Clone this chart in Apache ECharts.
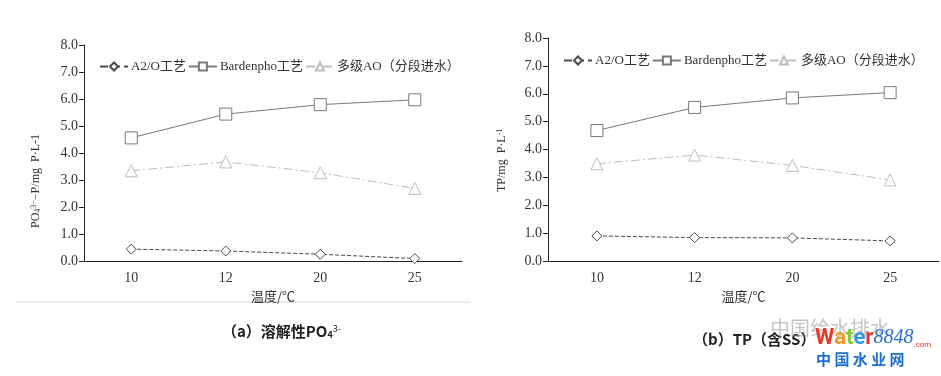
<!DOCTYPE html>
<html>
<head>
<meta charset="utf-8">
<script src="https://cdn.jsdelivr.net/npm/echarts@6/dist/echarts.min.js"></script>
<style>
  html, body { margin: 0; padding: 0; background: #fff; }
  #main { width: 941px; height: 376px; }
</style>
</head>
<body>
<div id="main"></div>
<script>
// temperatures (x categories)
var temps = ['10', '12', '20', '25'];
var seriesNames = ['A2/O工艺', 'Bardenpho工艺', '多级AO（分段进水）'];

// (a) dissolved PO4 3- -P, mg P/L
var poA2O = [0.44, 0.37, 0.25, 0.09];
var poBarden = [4.56, 5.44, 5.79, 5.97];
var poMultiAO = [3.34, 3.67, 3.27, 2.69];

// (b) TP, mg P/L
var tpA2O = [0.90, 0.84, 0.83, 0.72];
var tpBarden = [4.68, 5.51, 5.85, 6.04];
var tpMultiAO = [3.49, 3.80, 3.43, 2.91];

var yTicks = ['0.0', '1.0', '2.0', '3.0', '4.0', '5.0', '6.0', '7.0', '8.0'];

var serif = '"Liberation Serif", "Noto Sans CJK SC", serif';
var cjk = '"Noto Sans CJK SC", "Liberation Serif", serif';

var styles = [
  { color: '#4a4a4a', type: 'dashed', symbol: 'diamond', size: 10 },
  { color: '#7a7a7a', type: 'solid', symbol: 'rect', size: 12 },
  { color: '#bdbdbd', type: [9, 3, 2, 3], symbol: 'triangle', size: 12 }
];

function makeSeries(data, idx, gridIdx) {
  var s = styles[idx];
  return {
    name: seriesNames[idx],
    type: 'line',
    xAxisIndex: gridIdx,
    yAxisIndex: gridIdx,
    data: data,
    symbol: s.symbol,
    symbolSize: s.size,
    showAllSymbol: true,
    lineStyle: { color: s.color, width: 1, type: s.type },
    itemStyle: { color: '#fff', borderColor: s.color, borderWidth: 1 },
    emphasis: { disabled: true },
    animation: false
  };
}

function xAxisFor(gridIdx) {
  return {
    type: 'category',
    gridIndex: gridIdx,
    data: temps,
    boundaryGap: true,
    name: '温度/℃',
    nameLocation: 'middle',
    nameGap: 20,
    nameTextStyle: { fontFamily: cjk, fontSize: 13, color: '#333' },
    axisLine: { lineStyle: { color: '#222', width: 1 } },
    axisTick: { show: false },
    axisLabel: { fontFamily: serif, fontSize: 14, color: '#333', margin: 10 }
  };
}

function yAxisFor(gridIdx) {
  return {
    type: 'value',
    gridIndex: gridIdx,
    min: 0,
    max: 8,
    interval: 1,
    splitLine: { show: false },
    axisLine: { show: true, lineStyle: { color: '#222', width: 1 } },
    axisTick: { show: true, length: 5, lineStyle: { color: '#222' } },
    axisLabel: {
      fontFamily: serif, fontSize: 14, color: '#333', margin: 6,
      formatter: function (v) { return yTicks[Math.round(v)]; }
    }
  };
}

function legendFor(left, top) {
  return {
    left: left,
    top: top,
    width: 420,
    data: seriesNames,
    itemWidth: 28,
    itemHeight: 10,
    itemGap: 2,
    selectedMode: false,
    textStyle: { fontFamily: serif, fontSize: 13, color: '#333', padding: [0, 0, 0, -2] }
  };
}

var chart = echarts.init(document.getElementById('main'));
chart.setOption({
  backgroundColor: '#fff',
  animation: false,
  grid: [
    { left: 84, top: 45, width: 378, height: 216 },
    { left: 548, top: 38, width: 391, height: 223 }
  ],
  legend: [legendFor(94, 55), legendFor(558, 49)],
  xAxis: [xAxisFor(0), xAxisFor(1)],
  yAxis: [yAxisFor(0), yAxisFor(1)],
  series: [
    makeSeries(poA2O, 0, 0),
    makeSeries(poBarden, 1, 0),
    makeSeries(poMultiAO, 2, 0),
    makeSeries(tpA2O, 0, 1),
    makeSeries(tpBarden, 1, 1),
    makeSeries(tpMultiAO, 2, 1)
  ],
  graphic: [
    {
      type: 'text', x: 30, y: 228, rotation: Math.PI / 2,
      style: {
        text: 'PO{sub|4}{sup|3−}−P/mg  P·L-1',
        fontFamily: serif, fontSize: 12, fill: '#333',
        rich: {
          sub: { fontSize: 8, verticalAlign: 'bottom', fontFamily: serif },
          sup: { fontSize: 8, verticalAlign: 'top', fontFamily: serif }
        }
      }
    },
    {
      type: 'text', x: 496, y: 192, rotation: Math.PI / 2,
      style: {
        text: 'TP/mg  P·L{sup|-1}',
        fontFamily: serif, fontSize: 12, fill: '#333',
        rich: { sup: { fontSize: 8, verticalAlign: 'top', fontFamily: serif } }
      }
    },
    {
      type: 'line', shape: { x1: 16, y1: 302, x2: 470, y2: 302 },
      style: { stroke: '#ececec', lineWidth: 2 }
    },
    {
      type: 'text', x: 222, y: 324,
      style: {
        text: '（a）溶解性PO{sub|4}{sup|3-}',
        fontFamily: cjk, fontSize: 15, fontWeight: 'bold', fill: '#222',
        rich: {
          sub: { fontSize: 9, fontWeight: 'bold', verticalAlign: 'bottom', fontFamily: cjk, fill: '#222' },
          sup: { fontSize: 9, verticalAlign: 'top', fontFamily: cjk, fill: '#222' }
        }
      }
    },
    {
      type: 'text', x: 693, y: 332,
      style: { text: '（b）TP（含SS）', fontFamily: cjk, fontSize: 15, fontWeight: 'bold', fill: '#222' }
    },
    {
      type: 'text', x: 770, y: 318,
      style: { text: '中国给水排水', fontFamily: cjk, fontSize: 20, fill: 'rgba(150,150,150,0.55)' }
    },
    {
      type: 'text', x: 815, y: 327,
      style: {
        text: '{w|W}{a|a}{t|t}{e|e}{r|r}{n|8848}{c|.com}',
        rich: {
          w: { fontFamily: 'Roboto', fontWeight: 'bold', fontSize: 22, fill: '#e63a2e' },
          a: { fontFamily: 'Roboto', fontWeight: 'bold', fontSize: 22, fill: '#f29a1f' },
          t: { fontFamily: 'Roboto', fontWeight: 'bold', fontSize: 22, fill: '#8cc63f' },
          e: { fontFamily: 'Roboto', fontWeight: 'bold', fontSize: 22, fill: '#2e9be0' },
          r: { fontFamily: 'Roboto', fontWeight: 'bold', fontSize: 22, fill: '#e63a2e' },
          n: { fontFamily: serif, fontStyle: 'italic', fontSize: 20, fill: '#2a6fd0' },
          c: { fontFamily: 'Roboto', fontSize: 8, fill: '#e63a2e', verticalAlign: 'bottom' }
        }
      }
    },
    {
      type: 'text', x: 816, y: 352,
      style: { text: '中 国 水 业 网', fontFamily: cjk, fontWeight: 'bold', fontSize: 15, fill: '#1f6fd1' }
    }
  ]
});
</script>
</body>
</html>
